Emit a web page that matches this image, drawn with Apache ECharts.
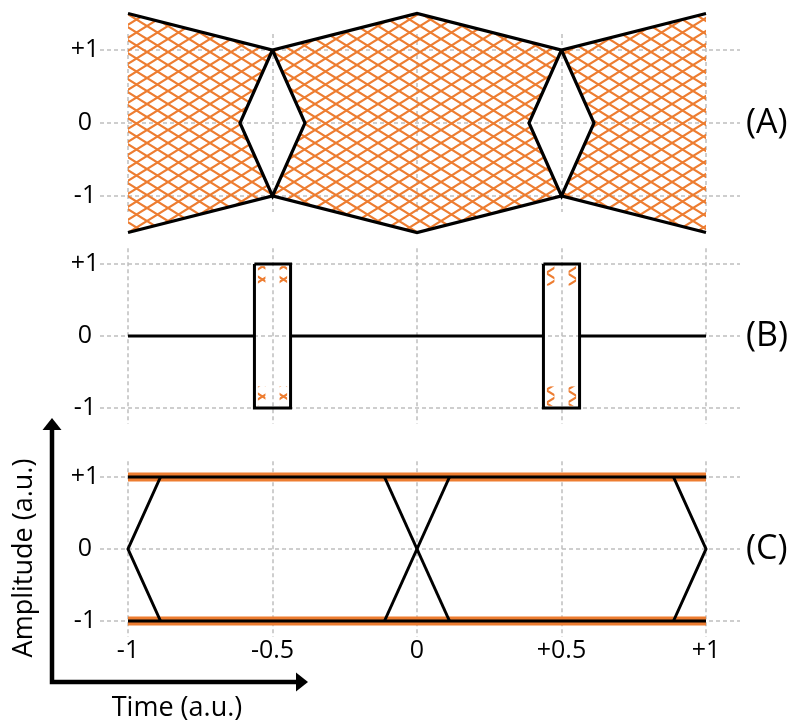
<!DOCTYPE html>
<html><head><meta charset="utf-8">
<script src="https://cdn.jsdelivr.net/npm/echarts@6/dist/echarts.min.js"></script>
<style>html,body{margin:0;padding:0;background:#fff}#c{width:795px;height:722px}</style>
</head><body><div id="c"></div>
<script>
// ---------------- data ----------------
const xTickValues = [-1, -0.5, 0, 0.5, 1];
const yTickValues = [-1, 0, 1];
const panelLabels = ['(A)', '(B)', '(C)'];
const xTitle = 'Time (a.u.)';
const yTitle = 'Amplitude (a.u.)';
// Panel A: eye envelope and eye openings
const envX = [-1, -0.5, 0, 0.5, 1];
const envUpper = [1.5, 1, 1.5, 1, 1.5];
const envLower = [-1.5, -1, -1.5, -1, -1.5];
const eyeCenters = [-0.5, 0.5];
const eyeHalfWidth = 0.1125;
const eyeHalfHeight = 1;
// Panel B: masks
const maskCenters = [-0.5, 0.5];
const maskHalfWidth = 0.0625;
const maskHalfHeight = 1;
const baseLevel = 0;
const cornerHatchInset = [0.012, 0.038];   // horizontal band inside mask wall
const cornerHatchRange = [0.97, 0.7];      // vertical band near top/bottom
// Panel C: ideal transitions
const levelsC = [1, -1];
const crossCenters = [-1, 0, 1];
const crossHalfWidth = 0.1125;

// ---------------- styles ----------------
const ORANGE = '#ED7D31';
const GRID = '#BFBFBF';
const FONT = '"Open Sans", sans-serif';

function makeHatch(w, h, color, lw) {
  const c = document.createElement('canvas');
  c.width = w; c.height = h;
  const ctx = c.getContext('2d');
  ctx.strokeStyle = color; ctx.lineWidth = lw;
  for (let dx = -w; dx <= w; dx += w) for (let dy = -h; dy <= h; dy += h) {
    ctx.beginPath(); ctx.moveTo(dx, dy); ctx.lineTo(dx + w, dy + h); ctx.stroke();
    ctx.beginPath(); ctx.moveTo(dx, dy + h); ctx.lineTo(dx + w, dy); ctx.stroke();
  }
  return c;
}
const hatch = { image: makeHatch(21, 13, ORANGE, 2.2), repeat: 'repeat' };

// panel layout (pixel positions of +1 / -1 levels)
const panels = [
  { top: 50, bottom: 196 },
  { top: 264, bottom: 408 },
  { top: 477, bottom: 621 }
];
const vExt = 1.22;
const plotLeft = 128, plotRight = 706, gridLeft = 100, gridRight = 740, W = 795;

const grids = [], xAxes = [], yAxes = [];
panels.forEach((p, i) => {
  const h = p.bottom - p.top, mid = (p.top + p.bottom) / 2;
  grids.push({ left: gridLeft, right: W - gridRight, top: p.top, height: h });
  xAxes.push({ gridIndex: 2 * i, type: 'value', min: 0, max: 1, show: false });
  yAxes.push({
    gridIndex: 2 * i, type: 'value', min: -1, max: 1, interval: 1,
    axisLine: { show: false }, axisTick: { show: false },
    axisLabel: { margin: 15, align: 'center', color: '#000', fontSize: 25, fontFamily: FONT,
      formatter: v => (v > 0 ? '+' + v : String(v)) },
    splitLine: { show: true, lineStyle: { color: GRID, width: 1.5, type: [4, 3] } }
  });
  const vh = h * vExt;
  grids.push({ left: plotLeft, right: W - plotRight, top: mid - vh / 2, height: vh });
  xAxes.push({
    gridIndex: 2 * i + 1, type: 'value', min: -1, max: 1, interval: 0.5,
    axisLine: { show: false }, axisTick: { show: false },
    axisLabel: { show: i === 2, margin: 2, color: '#000', fontSize: 25, fontFamily: FONT,
      formatter: v => (v > 0 ? '+' + v : String(v)) },
    splitLine: { show: true, lineStyle: { color: GRID, width: 1.5, type: [4, 3] } }
  });
  yAxes.push({ gridIndex: 2 * i + 1, type: 'value', min: -vExt, max: vExt, show: false });
});

function polySeries(axisIdx, polys, fill) {
  return {
    type: 'custom', xAxisIndex: axisIdx, yAxisIndex: axisIdx, clip: false, silent: true, z: 1,
    data: polys.map(() => [0, 0]),
    renderItem: (params, api) => ({
      type: 'polygon',
      shape: { points: polys[params.dataIndex].map(pt => api.coord(pt)) },
      style: { fill: fill, stroke: null }
    })
  };
}
function lineSeries(axisIdx, pts, color, width, z) {
  return {
    type: 'line', xAxisIndex: axisIdx, yAxisIndex: axisIdx, data: pts, clip: false,
    symbol: 'none', silent: true, z: z || 3,
    lineStyle: { color: color, width: width, join: 'miter' }
  };
}

const series = [];
// ---- Panel A ----
{
  const ax = 1;
  const envPts = (arr, a, b) => envX.map((x, k) => [x, arr[k]]).filter(p => p[0] >= a - 1e-9 && p[0] <= b + 1e-9);
  const bounds = [envX[0], ...eyeCenters, envX[envX.length - 1]];
  const polys = [];
  for (let k = 0; k < bounds.length - 1; k++) {
    const a = bounds[k], b = bounds[k + 1];
    const poly = [];
    poly.push(...envPts(envUpper, a, b));
    if (eyeCenters.includes(b)) poly.push([b - eyeHalfWidth, 0]);
    poly.push(...envPts(envLower, a, b).reverse());
    if (eyeCenters.includes(a)) poly.push([a + eyeHalfWidth, 0]);
    polys.push(poly);
  }
  series.push(polySeries(ax, polys, hatch));
  series.push(lineSeries(ax, envX.map((x, k) => [x, envUpper[k]]), '#000', 3.2));
  series.push(lineSeries(ax, envX.map((x, k) => [x, envLower[k]]), '#000', 3.2));
  eyeCenters.forEach(c => {
    series.push(lineSeries(ax, [[c, eyeHalfHeight], [c + eyeHalfWidth, 0], [c, -eyeHalfHeight],
      [c - eyeHalfWidth, 0], [c, eyeHalfHeight]], '#000', 3.2));
  });
}
// ---- Panel B ----
{
  const ax = 3;
  const cuts = [-1];
  maskCenters.forEach(c => { cuts.push(c - maskHalfWidth, c + maskHalfWidth); });
  cuts.push(1);
  for (let k = 0; k < cuts.length; k += 2) {
    series.push(lineSeries(ax, [[cuts[k], baseLevel], [cuts[k + 1], baseLevel]], '#000', 3));
  }
  const bands = [];
  maskCenters.forEach(c => {
    [-1, 1].forEach(sx => [1, -1].forEach(sy => {
      const ex = c + sx * maskHalfWidth;
      const x1 = ex - sx * cornerHatchInset[0], x2 = ex - sx * cornerHatchInset[1];
      const y1 = sy * cornerHatchRange[0], y2 = sy * cornerHatchRange[1];
      bands.push([[x1, y1], [x2, y1], [x2, y2], [x1, y2]]);
    }));
  });
  series.push(polySeries(ax, bands, hatch));
  maskCenters.forEach(c => {
    const l = c - maskHalfWidth, r = c + maskHalfWidth;
    series.push(lineSeries(ax, [[l, maskHalfHeight], [r, maskHalfHeight], [r, -maskHalfHeight],
      [l, -maskHalfHeight], [l, maskHalfHeight]], '#000', 3));
  });
}
// ---- Panel C ----
{
  const ax = 5;
  levelsC.forEach(v => series.push(lineSeries(ax, [[-1, v], [1, v]], ORANGE, 9, 2)));
  levelsC.forEach(v => series.push(lineSeries(ax, [[-1, v], [1, v]], '#000', 3.2, 3)));
  crossCenters.forEach(c => {
    const left = c - crossHalfWidth, right = c + crossHalfWidth;
    if (c > -1 && c < 1) {
      series.push(lineSeries(ax, [[left, 1], [right, -1]], '#000', 3));
      series.push(lineSeries(ax, [[left, -1], [right, 1]], '#000', 3));
    } else {
      const inner = c < 0 ? right : left;
      series.push(lineSeries(ax, [[inner, 1], [c, 0], [inner, -1]], '#000', 3));
    }
  });
}

const graphic = [];
panels.forEach((p, i) => {
  graphic.push({ type: 'text', x: 746, y: (p.top + p.bottom) / 2,
    style: { text: panelLabels[i], fill: '#000', font: '34px ' + FONT,
      align: 'left', verticalAlign: 'middle', textAlign: 'left', textVerticalAlign: 'middle' } });
});
graphic.push({ type: 'polyline', shape: { points: [[52, 428], [52, 682], [298, 682]] },
  style: { stroke: '#000', lineWidth: 4.5, fill: null, lineJoin: 'miter' } });
graphic.push({ type: 'polygon', shape: { points: [[52, 418], [42.5, 430], [61.5, 430]] }, style: { fill: '#000' } });
graphic.push({ type: 'polygon', shape: { points: [[308, 682], [296, 672.5], [296, 691.5]] }, style: { fill: '#000' } });
graphic.push({ type: 'text', x: 177, y: 708,
  style: { text: xTitle, fill: '#000', font: '27px ' + FONT,
    align: 'center', verticalAlign: 'middle', textAlign: 'center', textVerticalAlign: 'middle' } });
graphic.push({ type: 'text', x: 24, y: 558, rotation: Math.PI / 2,
  style: { text: yTitle, fill: '#000', font: '27px ' + FONT,
    align: 'center', verticalAlign: 'middle', textAlign: 'center', textVerticalAlign: 'middle' } });

const chart = echarts.init(document.getElementById('c'), null, { renderer: 'canvas' });
chart.setOption({
  animation: false,
  backgroundColor: '#fff',
  grid: grids, xAxis: xAxes, yAxis: yAxes,
  series: series,
  graphic: graphic
});
</script>
</body></html>
